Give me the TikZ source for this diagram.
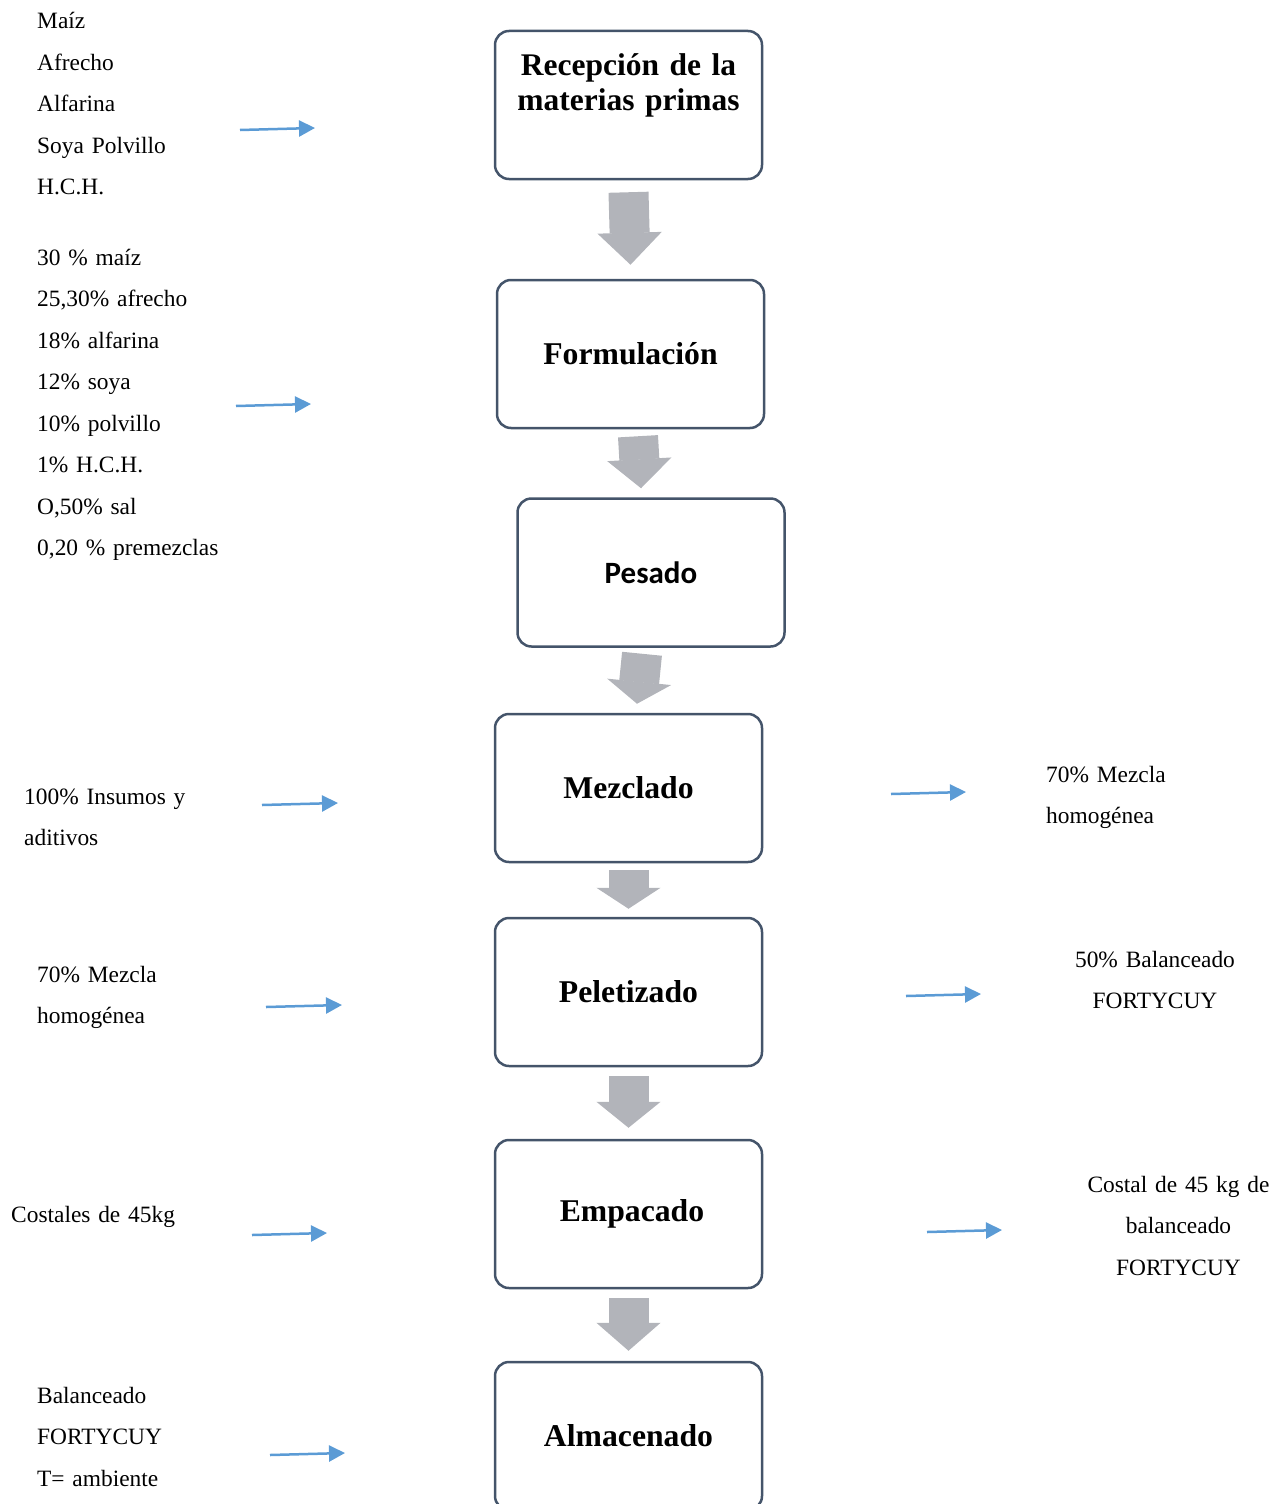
\documentclass[tikz,border=0pt]{standalone}
\usepackage{fontspec}
\setmainfont{Liberation Serif}
\newfontfamily\calibri{Carlito}
\usetikzlibrary{arrows.meta,calc}
\definecolor{boxline}{HTML}{44546A}
\definecolor{flowgray}{HTML}{B2B4BA}
\definecolor{inblue}{HTML}{5B9BD5}
\tikzstyle{block} = [draw=boxline, line width=2.5pt, rounded corners=14pt, rectangle, minimum width=267pt, minimum height=148pt, inner sep=0pt, align=center, font=\fontsize{31.7}{35}\selectfont\bfseries]
\tikzstyle{title} = [inner sep=0pt, text width=267pt, align=center, font=\fontsize{31.5}{35}\selectfont\bfseries]
\tikzstyle{txt} = [inner sep=0pt, text width=250pt, align=left, font=\fontsize{23.4}{41.5}\selectfont]
\tikzstyle{ctxt} = [inner sep=0pt, text width=250pt, align=center, font=\fontsize{23.4}{41.5}\selectfont]
\tikzstyle{inarrow} = [draw=inblue, line width=2.5pt, -{Triangle[width=16pt,length=16pt]}]
\tikzset{flow/.style={draw=flowgray, line width=40pt, -{Triangle[width=64pt,length=#1,line width=1.5pt]}}, flow/.default=28pt}

\begin{document}
\begin{tikzpicture}[x=1pt,y=-1pt]
	\useasboundingbox (0,0) rectangle (1287,1504);

	% the process blocks
	\node [block] (rec) at (628.5,105) {};
	\node [title,anchor=base] (rect) at (628.5,75) {Recepción de la\\materias primas};
	\node [block] (form) at (630.5,354) {Formulación};
	\node [block,font=\calibri\fontsize{31}{35}\selectfont\bfseries] (pes) at (651,572.5) {Pesado};
	\node [block] (mez) at (628.5,788) {Mezclado};
	\node [block] (pel) at (628.5,992) {Peletizado};
	\node [block] (emp) at (628.5,1214) {\hspace*{7pt}Empacado};
	\node [block] (alm) at (628.5,1436) {Almacenado};

	% gray flow arrows between blocks
	\draw [flow=32pt] ([yshift=-12pt]rec.south) -- ([yshift=14pt]form.north);
	\draw [flow=29pt] ([xshift=7.5pt,yshift=-7pt]form.south) -- ([xshift=-10pt,yshift=9pt]pes.north);
	\draw [flow=22pt] ([xshift=-9pt,yshift=-6pt]pes.south) -- ([xshift=8.5pt,yshift=9pt]mez.north);
	\draw [flow=21pt] ([yshift=-7pt]mez.south) -- ([yshift=8pt]pel.north);
	\draw [flow=26pt] ([yshift=-9pt]pel.south) -- ([yshift=11pt]emp.north);
	\draw [flow=28pt] ([yshift=-9pt]emp.south) -- ([yshift=10pt]alm.north);

	% inputs on the left
	\node [txt,anchor=base west] (mat) at (37,29) {Maíz\\Afrecho\\Alfarina\\Soya Polvillo\\H.C.H.};
	\node [txt,anchor=base west] (porc) at (37,265) {30 \% maíz\\25,30\% afrecho\\18\% alfarina\\12\% soya\\10\% polvillo\\1\% H.C.H.\\O,50\% sal\\0,20 \% premezclas};
	\node [txt,anchor=base west] (ins) at (24,804) {100\% Insumos y\\aditivos};
	\node [txt,anchor=base west] (mezin) at (37,982) {70\% Mezcla\\homogénea};
	\node [txt,anchor=base west] (cost) at (11,1222) {Costales de 45kg};
	\node [txt,anchor=base west] (bal) at (37,1403) {Balanceado\\FORTYCUY\\T= ambiente};

	% outputs on the right
	\node [txt,anchor=base west] (mezout) at (1046,782) {70\% Mezcla\\homogénea};
	\node [ctxt,anchor=base] (balout) at (1155,967) {50\% Balanceado\\FORTYCUY};
	\node [ctxt,anchor=base] (costout) at (1178.5,1192) {Costal de 45 kg de\\balanceado\\FORTYCUY};

	% blue arrows
	\coordinate (a1) at (240,130); \coordinate (b1) at (315,128);
	\coordinate (a2) at (236,406); \coordinate (b2) at (311,404);
	\coordinate (a3) at (262,805); \coordinate (b3) at (338,803);
	\coordinate (a4) at (266,1007); \coordinate (b4) at (342,1005);
	\coordinate (a5) at (252,1235); \coordinate (b5) at (327,1233);
	\coordinate (a6) at (270,1455); \coordinate (b6) at (345,1453);
	\coordinate (c1) at (891,794); \coordinate (d1) at (966,792);
	\coordinate (c2) at (906,996); \coordinate (d2) at (981,994);
	\coordinate (c3) at (927,1232); \coordinate (d3) at (1002,1230);
	\foreach \i in {1,...,6}
		\draw [inarrow] (a\i) -- (b\i);
	\foreach \i in {1,2,3}
		\draw [inarrow] (c\i) -- (d\i);

\end{tikzpicture}
\end{document}
